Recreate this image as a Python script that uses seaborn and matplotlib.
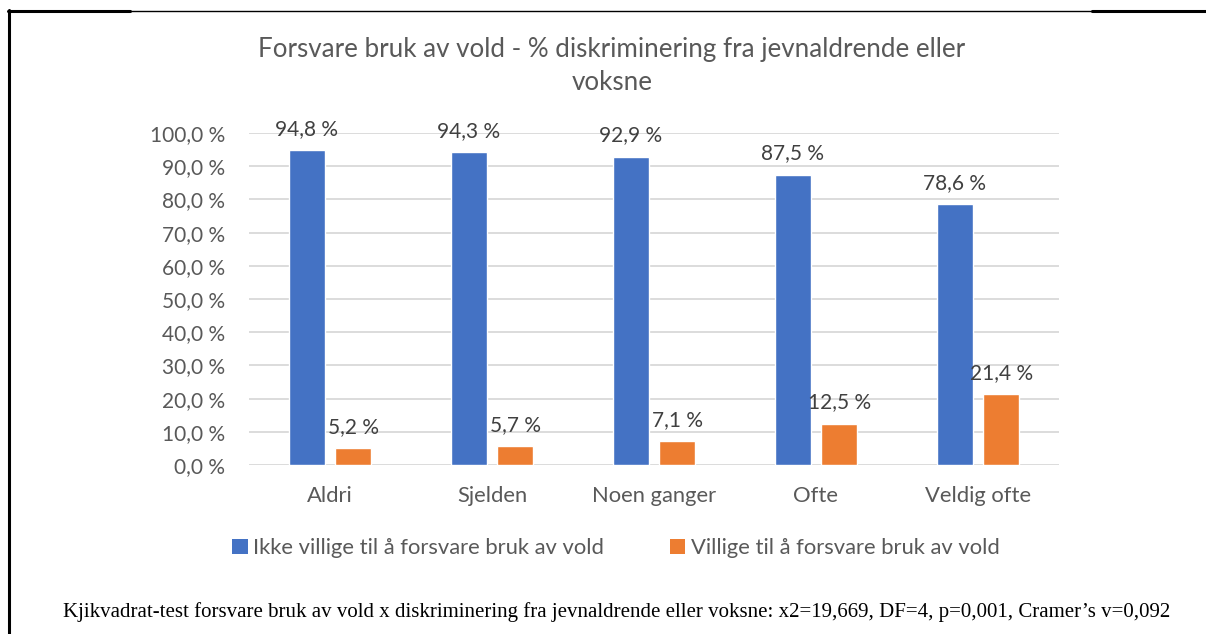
import matplotlib
matplotlib.use("Agg")
import matplotlib.pyplot as plt
from matplotlib.lines import Line2D
from matplotlib.patches import Patch
import seaborn as sns
import pandas as pd

categories = ["Aldri", "Sjelden", "Noen ganger", "Ofte", "Veldig ofte"]
series_names = ["Ikke villige til å forsvare bruk av vold", "Villige til å forsvare bruk av vold"]
ikke_villige = [94.8, 94.3, 92.9, 87.5, 78.6]
villige = [5.2, 5.7, 7.1, 12.5, 21.4]
yticks = [0, 10, 20, 30, 40, 50, 60, 70, 80, 90, 100]
title = "Forsvare bruk av vold - % diskriminering fra jevnaldrende eller\nvoksne"
footnote = ("Kjikvadrat-test forsvare bruk av vold x diskriminering fra jevnaldrende eller voksne: "
            "x2=19,669, DF=4, p=0,001, Cramer\u2019s v=0,092")

colors = ["#4472C4", "#ED7D31"]
text_color = "#595959"

df = pd.DataFrame({
    "kategori": categories * 2,
    "serie": [series_names[0]] * len(categories) + [series_names[1]] * len(categories),
    "verdi": ikke_villige + villige,
})

sns.set_theme(style="white")
plt.rcParams["font.family"] = ["Lato", "DejaVu Sans"]

fig = plt.figure(figsize=(12.06, 6.34), dpi=100)
ax = fig.add_axes([249 / 1206, 1 - 465 / 634, (1059 - 249) / 1206, (465 - 133) / 634])

sns.barplot(data=df, x="kategori", y="verdi", hue="serie", palette=colors,
            width=0.57, gap=0.22, ax=ax, legend=False, saturation=1, errorbar=None)

ax.set_ylim(0, 100)
ax.set_xlim(-0.5, len(categories) - 0.5)
ax.set_yticks(yticks)
ax.set_yticklabels([f"{v:.1f} %".replace(".", ",") for v in yticks])
ax.yaxis.grid(True, color="#D9D9D9", linewidth=1.3)
ax.set_axisbelow(True)
for s in ax.spines.values():
    s.set_visible(False)
ax.tick_params(axis="y", length=0, pad=17, labelsize=15, labelcolor=text_color)
ax.tick_params(axis="x", length=0, pad=15, labelsize=15.8, labelcolor=text_color)
ax.set_xlabel("")
ax.set_ylabel("")

for cont in ax.containers:
    ax.bar_label(cont, labels=[f"{b.get_height():.1f} %".replace(".", ",") for b in cont],
                 padding=8, fontsize=15, color="#404040")

handles = [Patch(facecolor=c, edgecolor="none") for c in colors]
fig.legend(handles, series_names, loc="center", bbox_to_anchor=(616 / 1206, 1 - 548 / 634),
           ncol=2, frameon=False, fontsize=15.8, labelcolor=text_color,
           handlelength=0.7, handleheight=0.7, handletextpad=0.25, columnspacing=3.0)

fig.text(612 / 1206, 1 - 66 / 634, title, ha="center", va="center", fontsize=18.7,
         color=text_color, linespacing=1.4)

fig.text(617 / 1206, 1 - 612 / 634, footnote, ha="center", va="center", fontsize=15,
         color="black", family=["Liberation Serif", "DejaVu Serif"])

# frame lines
fig.add_artist(Line2D([8.5 / 1206, 8.5 / 1206], [1 - 10 / 634, 0], transform=fig.transFigure,
                      color="black", linewidth=2.2))
fig.add_artist(Line2D([8 / 1206, 130 / 1206], [1 - 10.5 / 634, 1 - 10.5 / 634],
                      transform=fig.transFigure, color="black", linewidth=2.2))
fig.add_artist(Line2D([130 / 1206, 1092 / 1206], [1 - 10.5 / 634, 1 - 10.5 / 634],
                      transform=fig.transFigure, color="black", linewidth=1.0))
fig.add_artist(Line2D([1092 / 1206, 1], [1 - 11 / 634, 1 - 11 / 634],
                      transform=fig.transFigure, color="black", linewidth=2.2))

fig.savefig("out.png", dpi=100)
